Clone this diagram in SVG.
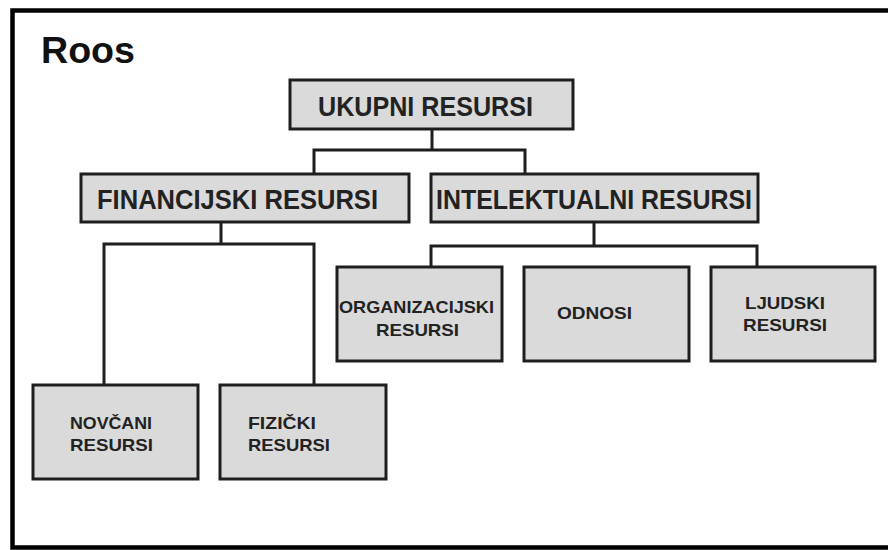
<svg xmlns="http://www.w3.org/2000/svg" width="888" height="550" viewBox="0 0 888 550">
<style>
.box{fill:#dadada;stroke:#1e1e1e;stroke-width:3}
.conn{fill:none;stroke:#1e1e1e;stroke-width:3}
.big{font-family:"Liberation Sans",Arial,sans-serif;font-weight:bold;font-size:28px;fill:#222}
.small{font-family:"Liberation Sans",Arial,sans-serif;font-weight:bold;font-size:17px;fill:#222}
</style>
<rect width="888" height="550" fill="#ffffff"/>
<path d="M888,10.5 H12.5 V547.5 H888" fill="none" stroke="#000" stroke-width="4.5"/>
<text x="41" y="63" font-family="Liberation Sans,Arial,sans-serif" font-weight="bold" font-size="36" fill="#111" textLength="94" lengthAdjust="spacingAndGlyphs">Roos</text>
<g id="connectors">
<path class="conn" d="M432,129 V150 M314,174 V150 H525 V174"/>
<path class="conn" d="M221,222 V244 M104,385 V244 H314 V385"/>
<path class="conn" d="M594,222 V246 M431,267 V246 H757 V267"/>
</g>
<g id="ukupni">
<rect class="box" x="290" y="80" width="283" height="49"/>
<text class="big" x="318" y="116" textLength="215" lengthAdjust="spacingAndGlyphs">UKUPNI RESURSI</text>
</g>
<g id="financijski">
<rect class="box" x="81" y="174" width="328" height="48"/>
<text class="big" x="97" y="209" textLength="281" lengthAdjust="spacingAndGlyphs">FINANCIJSKI RESURSI</text>
</g>
<g id="intelektualni">
<rect class="box" x="431" y="174" width="327" height="48"/>
<text class="big" x="436" y="209" textLength="316" lengthAdjust="spacingAndGlyphs">INTELEKTUALNI RESURSI</text>
</g>
<g id="organizacijski">
<rect class="box" x="337" y="267" width="165" height="94"/>
<text class="small" x="339" y="313" textLength="155" lengthAdjust="spacingAndGlyphs">ORGANIZACIJSKI</text>
<text class="small" x="376" y="336" textLength="83" lengthAdjust="spacingAndGlyphs">RESURSI</text>
</g>
<g id="odnosi">
<rect class="box" x="524" y="267" width="165" height="94"/>
<text class="small" x="557" y="319" textLength="75" lengthAdjust="spacingAndGlyphs">ODNOSI</text>
</g>
<g id="ljudski">
<rect class="box" x="711" y="267" width="164" height="94"/>
<text class="small" x="745" y="309" textLength="80" lengthAdjust="spacingAndGlyphs">LJUDSKI</text>
<text class="small" x="743" y="331" textLength="84" lengthAdjust="spacingAndGlyphs">RESURSI</text>
</g>
<g id="novcani">
<rect class="box" x="33" y="385" width="165" height="94"/>
<text class="small" x="70" y="429" textLength="82" lengthAdjust="spacingAndGlyphs">NOVČANI</text>
<text class="small" x="70" y="451" textLength="83" lengthAdjust="spacingAndGlyphs">RESURSI</text>
</g>
<g id="fizicki">
<rect class="box" x="220" y="385" width="166" height="94"/>
<text class="small" x="248" y="429" textLength="68" lengthAdjust="spacingAndGlyphs">FIZIČKI</text>
<text class="small" x="248" y="451" textLength="82" lengthAdjust="spacingAndGlyphs">RESURSI</text>
</g>
</svg>
